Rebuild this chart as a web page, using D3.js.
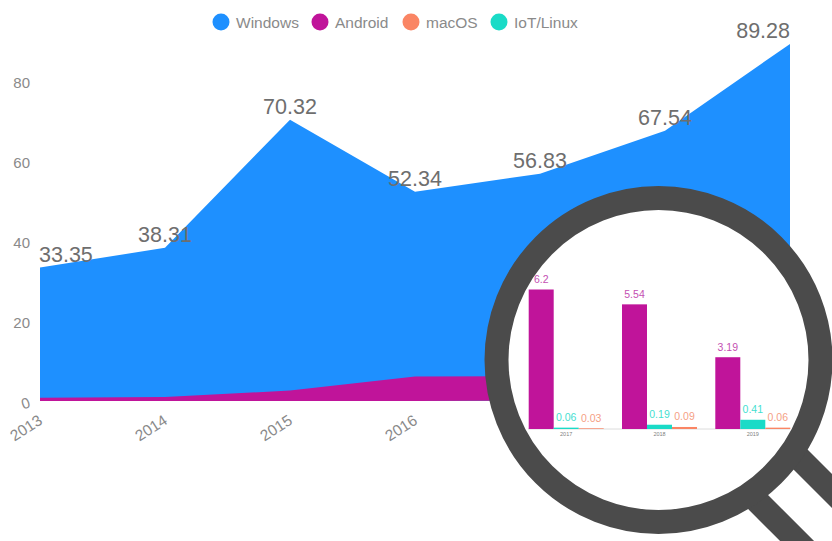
<!DOCTYPE html>
<html>
<head>
<meta charset="utf-8">
<script src="https://cdnjs.cloudflare.com/ajax/libs/d3/7.8.5/d3.min.js"></script>
<style>
html, body { margin: 0; padding: 0; background: #fff; }
svg { display: block; font-family: "Liberation Sans", Arial, sans-serif; }
</style>
</head>
<body>
<div class="chart"></div>
<script>
var years = [2013, 2014, 2015, 2016, 2017, 2018, 2019];
var windows = [33.35, 38.31, 70.32, 52.34, 56.83, 67.54, 89.28];
var android = [0.8, 1.0, 2.6, 6.1, 6.2, 5.54, 3.19];
var macos = [0, 0, 0, 0, 0.03, 0.09, 0.06];
var iot = [0, 0, 0, 0, 0.06, 0.19, 0.41];
var yTicks = [0, 20, 40, 60, 80];
var legendNames = ['Windows', 'Android', 'macOS', 'IoT/Linux'];
var insetYears = [2017, 2018, 2019];
var insetAndroid = [6.2, 5.54, 3.19];
var insetIot = [0.06, 0.19, 0.41];
var insetMacos = [0.03, 0.09, 0.06];

var blue = '#1e90ff',
	magenta = '#c0149a',
	salmon = '#fa8564',
	teal = '#1adbc7',
	ringColor = '#4b4b4b',
	labelColor = '#6e6e6e',
	axisColor = '#8a8a8a';

var width = 832, height = 541;
var svg = d3.select('.chart').append('svg')
	.attr('width', width)
	.attr('height', height);

var x = d3.scalePoint().domain(years).range([40, 790]);
var y = d3.scaleLinear().domain([0, 80]).range([401, 81]);

function area(values) {
	return d3.area()
		.x(function(d) { return x(d.year); })
		.y0(y(0))
		.y1(function(d) { return y(d.value); })(values.map(function(v, i) {
			return {year: years[i], value: v};
		}));
}

// Areas overlap, they are not stacked.
svg.append('path').attr('fill', blue).attr('d', area(windows));
svg.append('path').attr('fill', magenta).attr('d', area(android));
svg.append('path').attr('fill', salmon).attr('d', area(macos));
svg.append('path').attr('fill', teal).attr('d', area(iot));

// Axes, lines removed so only the labels stay.
var yAxis = svg.append('g')
	.attr('transform', 'translate(40,0)')
	.call(d3.axisLeft(y).tickValues(yTicks).tickSize(0).tickPadding(10));
yAxis.select('.domain').remove();
yAxis.selectAll('text')
	.attr('font-size', '15px')
	.attr('fill', axisColor)
	.attr('font-family', '"Liberation Sans", Arial, sans-serif')
	.attr('y', 2)
	// the 0 sits tilted in the original
	.attr('transform', function(d) { return d === 0 ? 'rotate(-18,-14,2)' : null; });

var xAxis = svg.append('g')
	.attr('transform', 'translate(0,401)')
	.call(d3.axisBottom(x).tickSize(0));
xAxis.select('.domain').remove();
xAxis.selectAll('text')
	.attr('font-size', '15.5px')
	.attr('fill', axisColor)
	.attr('font-family', '"Liberation Sans", Arial, sans-serif')
	.attr('text-anchor', 'end')
	.attr('transform', 'translate(3,22) rotate(-33)')
	.attr('y', 0)
	.attr('dy', 0);

// Value labels, the first and last are kept inside the plot.
svg.append('g').selectAll('text')
	.data(windows)
	.enter().append('text')
	.attr('x', function(d, i) { return i === 0 ? x(years[i]) - 1 : x(years[i]); })
	.attr('y', function(d) { return y(d) - 5.5; })
	.attr('text-anchor', function(d, i) {
		return i === 0 ? 'start' : i === windows.length - 1 ? 'end' : 'middle';
	})
	.attr('font-size', '21.5px')
	.attr('fill', labelColor)
	.text(function(d) { return d.toFixed(2); });

// Legend
var legendColors = [blue, magenta, salmon, teal];
var legendX = [221, 320, 411, 499];
var legend = svg.append('g').selectAll('g')
	.data(legendNames)
	.enter().append('g')
	.attr('transform', function(d, i) { return 'translate(' + legendX[i] + ',22)'; });
legend.append('circle')
	.attr('r', 8.5)
	.attr('fill', function(d, i) { return legendColors[i]; });
legend.append('text')
	.attr('x', 15)
	.attr('y', 5.5)
	.attr('font-size', '15.5px')
	.attr('fill', axisColor)
	.text(function(d) { return d; });

// Magnifying glass: handle first, then the lens on top of it.
var lens = {x: 658.5, y: 360, r: 162, ring: 24};
var handle = svg.append('g')
	.attr('transform', 'translate(' + lens.x + ',' + lens.y + ') rotate(45)');
handle.selectAll('line')
	.data([-30, 30])
	.enter().append('line')
	.attr('x1', lens.r)
	.attr('x2', lens.r + 200)
	.attr('y1', function(d) { return d; })
	.attr('y2', function(d) { return d; })
	.attr('stroke', ringColor)
	.attr('stroke-width', 24);
svg.append('circle')
	.attr('cx', lens.x)
	.attr('cy', lens.y)
	.attr('r', lens.r)
	.attr('fill', '#fff')
	.attr('stroke', ringColor)
	.attr('stroke-width', lens.ring);

// Bar chart inside the lens.
var insetX = d3.scalePoint().domain(insetYears).range([566.2, 752.8]);
var insetY = d3.scaleLinear().domain([0, 6.2]).range([429, 289.5]);
var barWidth = 25;
var insetSeries = [
	{values: insetAndroid, color: magenta, text: '#c44fb2', offset: -37.5},
	{values: insetIot, color: teal, text: '#45e0d1', offset: -12.5},
	{values: insetMacos, color: salmon, text: '#f59f86', offset: 12.5}
];
var inset = svg.append('g');
inset.append('line')
	.attr('x1', 528)
	.attr('x2', 790)
	.attr('y1', insetY(0))
	.attr('y2', insetY(0))
	.attr('stroke', '#dcdcdc');
insetSeries.forEach(function(s) {
	inset.append('g').selectAll('rect')
		.data(s.values)
		.enter().append('rect')
		.attr('x', function(d, i) { return insetX(insetYears[i]) + s.offset; })
		.attr('y', function(d) { return insetY(d); })
		.attr('width', barWidth)
		.attr('height', function(d) { return insetY(0) - insetY(d); })
		.attr('fill', s.color);
	inset.append('g').selectAll('text')
		.data(s.values)
		.enter().append('text')
		.attr('x', function(d, i) { return insetX(insetYears[i]) + s.offset + barWidth / 2; })
		.attr('y', function(d) { return insetY(d) - 6.5; })
		.attr('text-anchor', 'middle')
		.attr('font-size', '10.5px')
		.attr('fill', s.text)
		.text(function(d) { return d; });
});
inset.append('g').selectAll('text')
	.data(insetYears)
	.enter().append('text')
	.attr('x', function(d) { return insetX(d); })
	.attr('y', 436)
	.attr('text-anchor', 'middle')
	.attr('font-size', '5.5px')
	.attr('fill', '#808080')
	.text(function(d) { return d; });
</script>
</body>
</html>
